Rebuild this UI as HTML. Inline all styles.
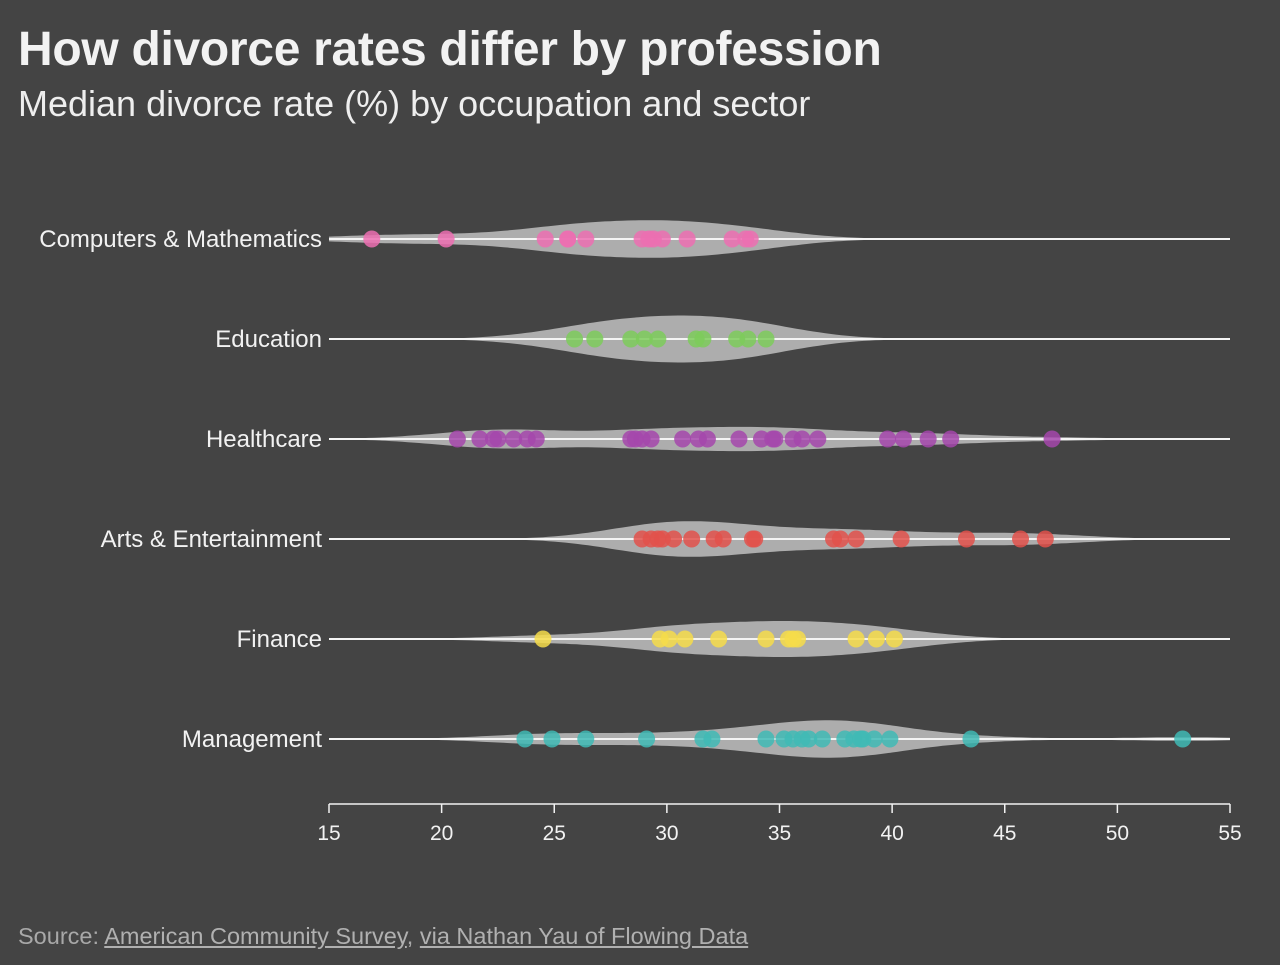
<!DOCTYPE html>
<html><head><meta charset="utf-8"><style>
body{margin:0;background:#444444;width:1280px;height:965px;overflow:hidden;font-family:"Liberation Sans",sans-serif;}
#title{position:absolute;left:18px;top:22px;font-size:48px;font-weight:bold;color:#f2f2f2;letter-spacing:-0.3px}
#sub{position:absolute;left:18px;top:83px;font-size:36px;color:#eeeeee}
#src{position:absolute;left:18px;top:923px;font-size:23.5px;color:#a8a8a8}
#src u{color:#b0b0b0}
svg{position:absolute;left:0;top:0}
</style></head><body>
<div id="title">How divorce rates differ by profession</div>
<div id="sub">Median divorce rate (%) by occupation and sector</div>
<svg id="chart" width="1280" height="965"></svg>
<div id="src">Source: <u>American Community Survey</u>, <u>via Nathan Yau of Flowing Data</u></div>
<script>
const categories=["Computers & Mathematics","Education","Healthcare","Arts & Entertainment","Finance","Management"];
const colors=["#ec6fb2","#7ccb5b","#a447ab","#e2514b","#f6dc4a","#40bab5"];
const compValues=[16.9,20.2,24.6,25.6,25.6,26.4,28.9,29.2,29.4,29.8,30.9,32.9,33.5,33.7];
const eduValues=[25.9,26.8,28.4,29.0,29.6,31.3,31.6,33.1,33.6,34.4];
const healthValues=[20.7,21.7,22.3,22.5,23.2,23.8,24.2,28.4,28.6,28.9,29.3,30.7,31.4,31.8,33.2,34.2,34.7,34.8,35.6,36.0,36.7,39.8,40.5,41.6,42.6,47.1];
const artsValues=[28.9,29.3,29.6,29.8,30.3,31.1,32.1,32.5,33.8,33.9,37.4,37.7,38.4,40.4,43.3,45.7,46.8];
const finValues=[24.5,29.7,30.1,30.8,32.3,34.4,35.4,35.6,35.8,38.4,39.3,40.1];
const mgmtValues=[23.7,24.9,26.4,29.1,31.6,32.0,34.4,35.2,35.6,36.0,36.3,36.9,37.9,38.3,38.6,38.7,39.2,39.9,43.5,52.9];
const xTicks=[15,20,25,30,35,40,45,50,55];
const series=[compValues,eduValues,healthValues,artsValues,finValues,mgmtValues];
const NS="http://www.w3.org/2000/svg";
const svg=document.getElementById('chart');
const x=v=>329+(v-15)*(1230-329)/40;
const y=i=>239+i*100;
function mk(t,a,p){const e=document.createElementNS(NS,t);for(const k in a)e.setAttribute(k,a[k]);(p||svg).appendChild(e);return e;}
categories.forEach((c,i)=>{
  const vals=series[i],cy=y(i),bw=2.6;
  const g=mk('g',{});
  
  
  let top=[],bot=[];
  for(let v=15;v<=55.001;v+=0.25){
    let d=0;vals.forEach(p=>{d+=Math.exp(-0.5*((v-p)/bw)**2);});
    d=d/(vals.length*bw*Math.sqrt(2*Math.PI));
    const h=d*240;
    top.push(x(v).toFixed(1)+','+(cy-h).toFixed(1));bot.unshift(x(v).toFixed(1)+','+(cy+h).toFixed(1));
  }
  const vio=mk('polygon',{points:top.concat(bot).join(' '),fill:'#adadad'},g);
  
  
  const ln=mk('line',{x1:329,x2:1230,y1:cy,y2:cy,stroke:'#f4f4f4','stroke-width':2},g);
  
  
  vals.forEach(v=>{
    const d=mk('circle',{cx:x(v),cy:cy,r:8.5,fill:colors[i],'fill-opacity':0.85},g);
    
    
  });
  const t=mk('text',{x:322,y:cy+8,'text-anchor':'end','font-size':24,fill:'#f2f2f2'},g);
  t.textContent=c;
  
  
});
const ax=mk('g',{});


mk('line',{x1:329,x2:1230,y1:804,y2:804,stroke:'#f2f2f2','stroke-width':1.5},ax);
xTicks.forEach(v=>{
  mk('line',{x1:x(v),x2:x(v),y1:804,y2:813,stroke:'#f2f2f2','stroke-width':1.5},ax);
  const t=mk('text',{x:x(v),y:840,'text-anchor':'middle','font-size':21,fill:'#f2f2f2'},ax);
  t.textContent=v;
  
  
});
</script>
</body></html>
